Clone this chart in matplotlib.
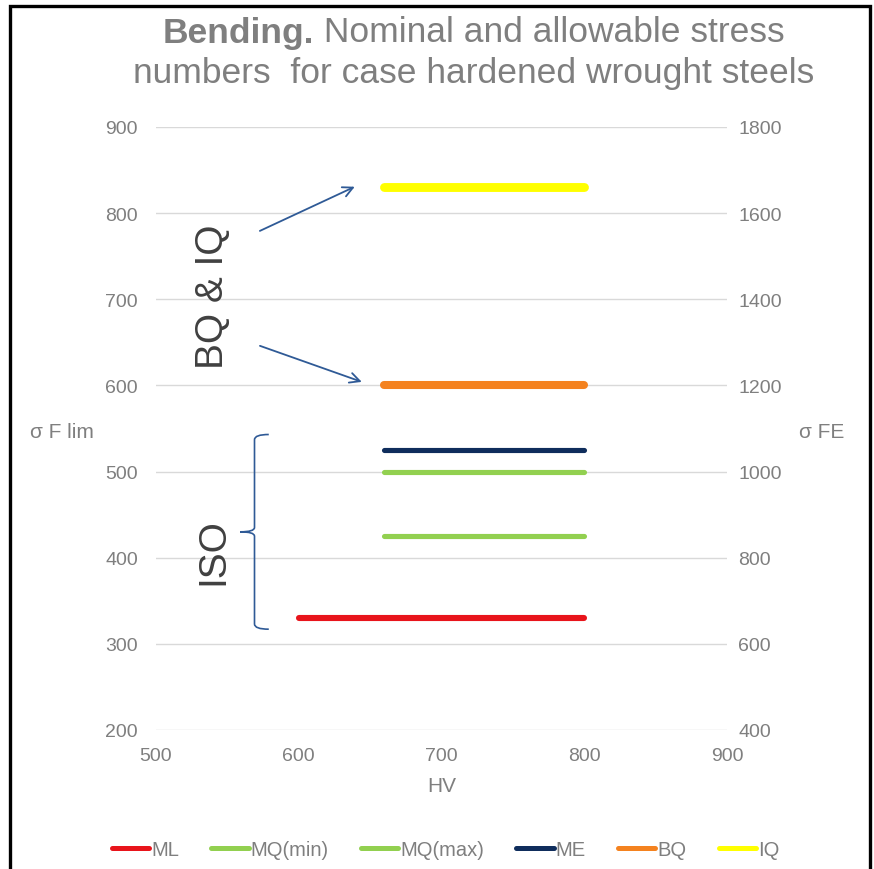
import matplotlib
matplotlib.use("Agg")
import matplotlib.pyplot as plt
from matplotlib.path import Path
from matplotlib.patches import PathPatch, Rectangle
from matplotlib.lines import Line2D

plt.rcParams['font.family'] = ['Liberation Sans', 'DejaVu Sans']

# Stress number levels (sigma F lim) across hardness range
series = ["ML", "MQ(min)", "MQ(max)", "ME", "BQ", "IQ"]
sigma_flim = [330, 425, 500, 525, 600, 830]
hv_start = [600, 660, 660, 660, 660, 660]
hv_end = [800, 800, 800, 800, 800, 800]
colors = ["#E8141B", "#92D050", "#92D050", "#0F2D5C", "#F4821F", "#FFFF00"]
widths = [4.4, 3.7, 3.7, 3.7, 5.8, 6.4]

x_ticks = [500, 600, 700, 800, 900]
y_ticks = [200, 300, 400, 500, 600, 700, 800, 900]
y2_ticks = [400, 600, 800, 1000, 1200, 1400, 1600, 1800]

GRAY = "#7F7F7F"

fig = plt.figure(figsize=(8.74, 8.70), dpi=100)
ax = fig.add_axes([0.1785, 0.1598, 0.6533, 0.6931])

for name, y, x0, x1, c, w in zip(series, sigma_flim, hv_start, hv_end, colors, widths):
    ax.plot([x0, x1], [y, y], color=c, lw=w, solid_capstyle='round', label=name, zorder=3)

ax.set_xlim(500, 900)
ax.set_ylim(200, 900)
ax.set_xticks(x_ticks)
ax.set_yticks(y_ticks)
ax.grid(axis='y', color='#D9D9D9', lw=1.0, zorder=0)
ax.set_axisbelow(True)
for s in ax.spines.values():
    s.set_visible(False)
ax.tick_params(axis='both', length=0, labelsize=14, labelcolor=GRAY)
ax.tick_params(axis='y', pad=13)
ax.tick_params(axis='x', pad=12)
ax.set_xlabel("HV", fontsize=15, color=GRAY, labelpad=9)

ax2 = ax.twinx()
ax2.set_ylim(400, 1800)
ax2.set_yticks(y2_ticks)
for s in ax2.spines.values():
    s.set_visible(False)
ax2.tick_params(axis='y', length=0, labelsize=14, labelcolor=GRAY, pad=8)

fig.text(62 / 874, 1 - 433 / 870, "σ F lim", fontsize=15, color=GRAY, ha='center', va='center')
fig.text(822 / 874, 1 - 433 / 870, "σ FE", fontsize=15, color=GRAY, ha='center', va='center')

# Title: bold lead word followed by regular text on the first line
TITLE_FS = 25.5
line1_bold = "Bending."
line1_rest = " Nominal and allowable stress"
line2 = "numbers  for case hardened wrought steels"
renderer = fig.canvas.get_renderer()
t_bold = fig.text(0, 1 - 33 / 870, line1_bold, fontsize=TITLE_FS, fontweight='bold',
                  color=GRAY, ha='left', va='center')
t_rest = fig.text(0, 1 - 33 / 870, line1_rest, fontsize=TITLE_FS, color=GRAY,
                  ha='left', va='center')
w_bold = t_bold.get_window_extent(renderer).width
w_rest = t_rest.get_window_extent(renderer).width
cx = 474
x_left = cx - (w_bold + w_rest) / 2
t_bold.set_x(x_left / 874)
t_rest.set_x((x_left + w_bold) / 874)
fig.text(cx / 874, 1 - 73 / 870, line2, fontsize=TITLE_FS, color=GRAY, ha='center', va='center')

# Group annotations
ax.text(540, 704, "BQ & IQ", rotation=90, fontsize=28, color="#404040",
        ha='center', va='center', zorder=4)
ax.text(540, 408, "ISO", rotation=90, fontsize=28, color="#404040",
        ha='center', va='center', zorder=4)

arrow_col = "#2F5A96"
ax.annotate("", xy=(641, 832), xytext=(571, 778),
            arrowprops=dict(arrowstyle='->', color=arrow_col, lw=1.3, mutation_scale=18))
ax.annotate("", xy=(646, 603), xytext=(571, 647),
            arrowprops=dict(arrowstyle='->', color=arrow_col, lw=1.3, mutation_scale=18))

# Curly brace spanning the ISO levels
bx, tip, nub = 569, 579, 559
top, bot, mid = 543, 317, 430
verts = [(tip, top), (bx, top), (bx, top - 6),
         (bx, mid + 5), (bx, mid), (nub, mid),
         (bx, mid), (bx, mid - 5),
         (bx, bot + 6), (bx, bot), (tip, bot)]
codes = [Path.MOVETO, Path.CURVE3, Path.CURVE3,
         Path.LINETO, Path.CURVE3, Path.CURVE3,
         Path.CURVE3, Path.CURVE3,
         Path.LINETO, Path.CURVE3, Path.CURVE3]
ax.add_patch(PathPatch(Path(verts, codes), fill=False, edgecolor=arrow_col, lw=1.2, zorder=4))

# Legend
handles = [Line2D([0], [0], color=c, lw=3.6, solid_capstyle='round') for c in colors]
fig.legend(handles, series, loc='center', bbox_to_anchor=(0.51, 1 - 851 / 870), ncol=6,
           frameon=False, fontsize=14.5, handlelength=1.85, handletextpad=0.1,
           columnspacing=1.6, labelcolor=GRAY)

# Outer frame
fig.patches.append(Rectangle((10 / 874, -0.05), (870 - 10) / 874, 1 - 7 / 870 + 0.05,
                             transform=fig.transFigure, fill=False, edgecolor='black', lw=2.4))

fig.savefig("out.png", dpi=100)
